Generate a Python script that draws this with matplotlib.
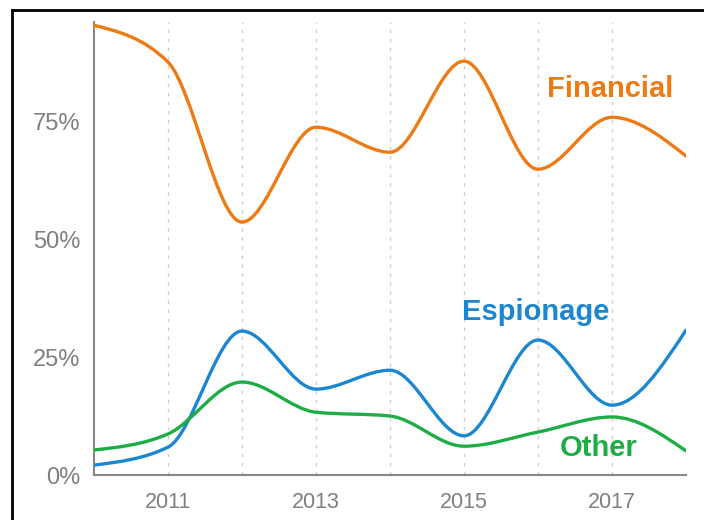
import numpy as np
import matplotlib
matplotlib.use("Agg")
import matplotlib.pyplot as plt
from matplotlib.path import Path
from matplotlib.patches import PathPatch
from matplotlib.lines import Line2D

# data (share of incidents, %)
years = [2010, 2011, 2012, 2013, 2014, 2015, 2016, 2017, 2018]
financial = [95.3, 87.5, 53.6, 73.7, 68.4, 87.7, 64.8, 75.8, 67.6]
espionage = [2.1, 5.9, 30.5, 18.2, 22.2, 8.3, 28.6, 14.8, 30.7]
other = [5.3, 8.7, 19.7, 13.3, 12.5, 6.1, 9.1, 12.3, 5.1]

tick_years = [2011, 2013, 2015, 2017]
y_ticks = [0, 25, 50, 75]

orange = "#EE7A14"
blue = "#1B87D0"
green = "#1EAD45"
grey = "#7f7f7f"

plt.rcParams["font.family"] = ["Liberation Sans", "DejaVu Sans"]


def monotone_path(xs, ys):
    # monotone-x cubic (like d3.curveMonotoneX), drawn as bezier path
    x = np.asarray(xs, float)
    y = np.asarray(ys, float)
    n = len(x)
    h = np.diff(x)
    s = np.diff(y) / h
    t = np.zeros(n)
    for i in range(1, n - 1):
        s0, s1 = s[i - 1], s[i]
        p = (s0 * h[i] + s1 * h[i - 1]) / (h[i - 1] + h[i])
        t[i] = (np.sign(s0) + np.sign(s1)) * min(abs(s0), abs(s1), 0.5 * abs(p))
    t[0] = (3 * s[0] - t[1]) / 2
    t[-1] = (3 * s[-1] - t[-2]) / 2
    verts = [(x[0], y[0])]
    codes = [Path.MOVETO]
    for i in range(n - 1):
        dx = h[i] / 3
        verts += [(x[i] + dx, y[i] + dx * t[i]),
                  (x[i + 1] - dx, y[i + 1] - dx * t[i + 1]),
                  (x[i + 1], y[i + 1])]
        codes += [Path.CURVE4] * 3
    return Path(verts, codes)


fig = plt.figure(figsize=(7.04, 5.20), dpi=100)
ax = fig.add_axes([94 / 704, 1 - 475 / 520, (686 - 94) / 704, (475 - 22) / 520])

for yr in years[1:]:
    ax.axvline(yr, color="#cfcfcf", lw=1, ls=(0, (2.5, 4)), zorder=0)

for vals, col in [(financial, orange), (espionage, blue), (other, green)]:
    ax.add_patch(PathPatch(monotone_path(years, vals), facecolor="none",
                           edgecolor=col, lw=2.4, capstyle="round", zorder=3))

ax.set_xlim(2010, 2018)
ax.set_ylim(0, 96)
ax.set_xticks(tick_years)
ax.set_xticklabels([str(v) for v in tick_years])
ax.set_yticks(y_ticks)
ax.set_yticklabels([f"{v}%" for v in y_ticks])
ax.tick_params(length=0, labelcolor=grey)
ax.tick_params(axis="y", labelsize=17, pad=10)
ax.tick_params(axis="x", labelsize=15.5, pad=12)
for side in ["top", "right"]:
    ax.spines[side].set_visible(False)
for side in ["left", "bottom"]:
    ax.spines[side].set_color("#888888")
    ax.spines[side].set_linewidth(1.5)

ax.text(2016.97, 81.8, "Financial", color=orange, fontsize=21,
        fontweight="bold", ha="center", va="center")
ax.text(2015.97, 34.5, "Espionage", color=blue, fontsize=21,
        fontweight="bold", ha="center", va="center")
ax.text(2016.82, 5.7, "Other", color=green, fontsize=21,
        fontweight="bold", ha="center", va="center")

# black frame at top and left of the picture
fig.add_artist(Line2D([11.5 / 704, 1], [1 - 9.5 / 520, 1 - 9.5 / 520],
                      color="black", lw=2, transform=fig.transFigure))
fig.add_artist(Line2D([11.5 / 704, 11.5 / 704], [0, 1 - 9.5 / 520],
                      color="black", lw=2, transform=fig.transFigure))

fig.savefig("out.png", dpi=100)
